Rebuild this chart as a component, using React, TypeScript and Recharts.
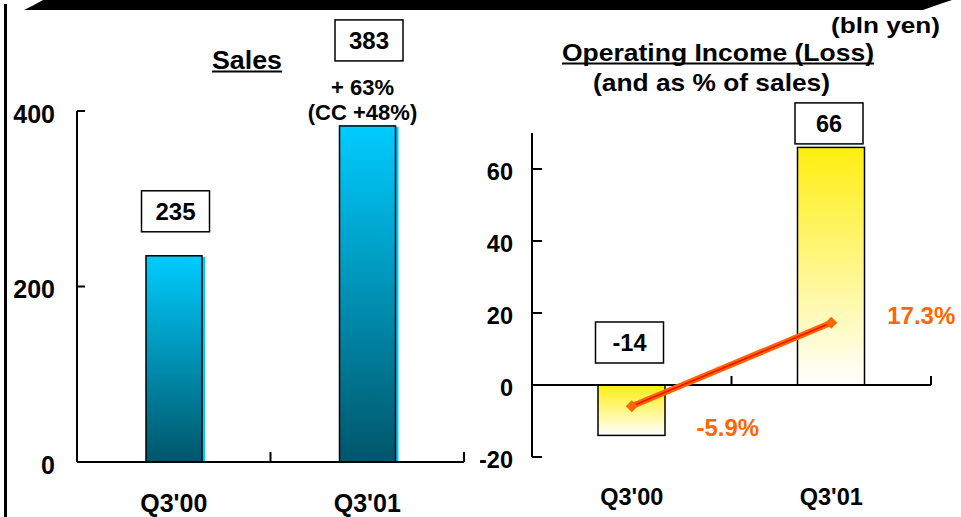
import React from "react";
import {
  Bar,
  ComposedChart,
  Line,
  ReferenceLine,
  XAxis,
  YAxis,
} from "recharts";

const quarters = ["Q3'00", "Q3'01"];
const sales = [235, 383];
const salesNotes = [[], ["+ 63%", "(CC +48%)"]];
const opIncome = [-14, 66];
const opMargin = [-5.9, 17.3];
const salesTicks = [0, 200, 400];
const opTicks = [-20, 0, 20, 40, 60];

const salesData = quarters.map((q, i) => ({
  q,
  sales: sales[i],
  notes: salesNotes[i],
}));
const opData = quarters.map((q, i) => ({
  q,
  income: opIncome[i],
  margin: opMargin[i],
}));

const FONT = '"Liberation Sans", Arial, sans-serif';
const ORANGE = "#FF6600";

// layout of the two panels
const H = 517;
const L = { w: 480, top: 111, bottom: 15, left: 17, right: 16, yw: 60, xh: 40 };
const L_PLOT_W = L.w - L.left - L.right - L.yw;
const R = { x: 480, w: 481, top: 133, bottom: 20, left: 2, right: 30, yw: 50, xh: 40 };
const R_PLOT_W = R.w - R.left - R.right - R.yw;
const R_PLOT_H = H - R.top - R.bottom - R.xh;
const R_DOMAIN = [-20, 70];
const R_ZERO_UP = (R_PLOT_H * (0 - R_DOMAIN[0])) / (R_DOMAIN[1] - R_DOMAIN[0]);

// label placement (relative to bar top / point)
const salesBoxDy = [-44.5, -85.5];
const opBoxDy = [-42.5, -24];
const marginLabelOffset = [
  { dx: 96, dy: 30 },
  { dx: 90, dy: 1 },
];

const txt = (size: number, color = "#000") => ({
  fontFamily: FONT,
  fontWeight: "bold" as const,
  fontSize: size,
  fill: color,
});

const ValueBox = ({ cx, cy, w, label, size }: any) => (
  <g>
    <rect
      x={cx - w / 2}
      y={cy - 20.5}
      width={w}
      height={41}
      fill="#fff"
      stroke="#000"
      strokeWidth={1.5}
    />
    <text x={cx} y={cy} dy="0.36em" textAnchor="middle" {...txt(size)}>
      {label}
    </text>
  </g>
);

const YTick = ({ x, y, payload, size }: any) => (
  <text x={x} y={y + 3} dy="0.35em" textAnchor="end" {...txt(size)}>
    {payload.value}
  </text>
);

const SalesXTick = ({ x, y, payload }: any) => {
  const half = L_PLOT_W / quarters.length / 2;
  return (
    <g>
      <line x1={x + half} x2={x + half} y1={y} y2={y - 10} stroke="#000" strokeWidth={2} />
      <text x={x} y={y + 50} textAnchor="middle" {...txt(25)}>
        {payload.value}
      </text>
    </g>
  );
};

const OpXTick = ({ x, y, payload }: any) => {
  const half = R_PLOT_W / quarters.length / 2;
  const zy = y - R_ZERO_UP;
  return (
    <g>
      <line x1={x + half} x2={x + half} y1={zy} y2={zy - 9} stroke="#000" strokeWidth={2} />
      <text x={x} y={y + 48} textAnchor="middle" {...txt(23.5)}>
        {payload.value}
      </text>
    </g>
  );
};

const SalesBar = (props: any) => {
  const { x, y, width, height, index, payload } = props;
  const top = Math.min(y, y + height);
  const h = Math.abs(height);
  const cx = x + width / 2;
  const notes: string[] = payload.notes || [];
  return (
    <g>
      <rect x={x + width} y={top + 1} width={3} height={h - 1} fill="#00CCFF" />
      <rect
        x={x}
        y={top}
        width={width}
        height={h}
        fill="url(#salesGrad)"
        stroke="#000"
        strokeWidth={1.5}
      />
      <ValueBox cx={cx + 1.5} cy={top + salesBoxDy[index]} w={68} label={payload.sales} size={24} />
      {notes.map((n, k) => (
        <text
          key={k}
          x={cx - 5}
          y={top - 31 + k * 25}
          textAnchor="middle"
          {...txt(22)}
        >
          {n}
        </text>
      ))}
    </g>
  );
};

const OpBar = (props: any) => {
  const { x, y, width, height, index, payload } = props;
  const top = Math.min(y, y + height);
  const h = Math.abs(height);
  const cx = x + width / 2;
  return (
    <g>
      <rect
        x={x}
        y={top}
        width={width}
        height={h}
        fill="url(#opGrad)"
        stroke="#000"
        strokeWidth={1.5}
      />
      <ValueBox cx={cx - 2} cy={top + opBoxDy[index]} w={68} label={payload.income} size={23.5} />
    </g>
  );
};

const MarginDot = (props: any) => {
  const { cx, cy, index, payload } = props;
  const off = marginLabelOffset[index];
  const s = 6;
  return (
    <g key={`m-${index}`}>
      <path
        d={`M${cx - s},${cy} L${cx},${cy - s} L${cx + s},${cy} L${cx},${cy + s} Z`}
        fill={ORANGE}
      />
      <text x={cx + off.dx} y={cy + off.dy} textAnchor="middle" {...txt(24, ORANGE)}>
        {`${payload.margin}%`}
      </text>
    </g>
  );
};

export default function App() {
  return (
    <div
      style={{
        position: "absolute",
        left: 0,
        top: 0,
        width: 961,
        height: H,
        background: "#fff",
        overflow: "hidden",
      }}
    >
      <div style={{ position: "absolute", left: 0, top: 0 }}>
        <ComposedChart
          width={L.w}
          height={H}
          data={salesData}
          margin={{ top: L.top, right: L.right, bottom: L.bottom, left: L.left }}
        >
          <defs>
            <linearGradient id="salesGrad" x1="0" y1="0" x2="0" y2="1">
              <stop offset="0%" stopColor="#00CCFF" />
              <stop offset="100%" stopColor="#00566A" />
            </linearGradient>
          </defs>
          <XAxis
            dataKey="q"
            height={L.xh}
            interval={0}
            tickLine={false}
            tickSize={0}
            tickMargin={0}
            axisLine={{ stroke: "#000", strokeWidth: 2 }}
            tick={(p: any) => <SalesXTick {...p} />}
          />
          <YAxis
            width={L.yw}
            domain={[0, 400]}
            ticks={salesTicks}
            interval={0}
            tickSize={-8}
            tickMargin={30}
            axisLine={{ stroke: "#000", strokeWidth: 2 }}
            tickLine={{ stroke: "#000", strokeWidth: 2 }}
            tick={(p: any) => <YTick {...p} size={25} />}
          />
          <Bar dataKey="sales" barSize={56} shape={SalesBar} isAnimationActive={false} />
        </ComposedChart>
      </div>

      <div style={{ position: "absolute", left: R.x, top: 0 }}>
        <ComposedChart
          width={R.w}
          height={H}
          data={opData}
          margin={{ top: R.top, right: R.right, bottom: R.bottom, left: R.left }}
        >
          <defs>
            <linearGradient id="opGrad" x1="0" y1="0" x2="0" y2="1">
              <stop offset="0%" stopColor="#FFEE10" />
              <stop offset="100%" stopColor="#FFFFFF" />
            </linearGradient>
          </defs>
          <XAxis
            dataKey="q"
            height={R.xh}
            interval={0}
            tickLine={false}
            tickSize={0}
            tickMargin={0}
            axisLine={false}
            tick={(p: any) => <OpXTick {...p} />}
          />
          <YAxis
            width={R.yw}
            domain={R_DOMAIN}
            ticks={opTicks}
            interval={0}
            tickSize={-10}
            tickMargin={29}
            axisLine={{ stroke: "#000", strokeWidth: 2 }}
            tickLine={{ stroke: "#000", strokeWidth: 2 }}
            tick={(p: any) => <YTick {...p} size={23.5} />}
          />
          <Bar dataKey="income" barSize={67} shape={OpBar} isAnimationActive={false} />
          <ReferenceLine y={0} stroke="#000" strokeWidth={2} />
          <Line
            dataKey="margin"
            stroke={ORANGE}
            strokeWidth={6}
            dot={MarginDot}
            activeDot={false}
            isAnimationActive={false}
          />
          <Line
            dataKey="margin"
            stroke="#EE1100"
            strokeWidth={1.5}
            dot={false}
            activeDot={false}
            isAnimationActive={false}
          />
        </ComposedChart>
      </div>

      <svg
        width={961}
        height={H}
        style={{ position: "absolute", left: 0, top: 0, pointerEvents: "none" }}
      >
        <polygon points="43,0 952,0 940,4 923,10 24,10 34,5" fill="#000" />
        <rect x={4} y={4} width={3} height={H} fill="#000" />
        <text x={940} y={33} textAnchor="end" textLength={109} lengthAdjust="spacingAndGlyphs" {...txt(22)}>
          (bln yen)
        </text>
        <text x={212} y={69} textLength={70} lengthAdjust="spacingAndGlyphs" {...txt(25)}>
          Sales
        </text>
        <line x1={212} x2={282} y1={71.5} y2={71.5} stroke="#000" strokeWidth={2} />
        <text x={562} y={61} textLength={312} lengthAdjust="spacingAndGlyphs" {...txt(24)}>
          Operating Income (Loss)
        </text>
        <line x1={562} x2={874} y1={63.5} y2={63.5} stroke="#000" strokeWidth={2} />
        <text x={593} y={91} textLength={237} lengthAdjust="spacingAndGlyphs" {...txt(24)}>
          (and as % of sales)
        </text>
      </svg>
    </div>
  );
}
